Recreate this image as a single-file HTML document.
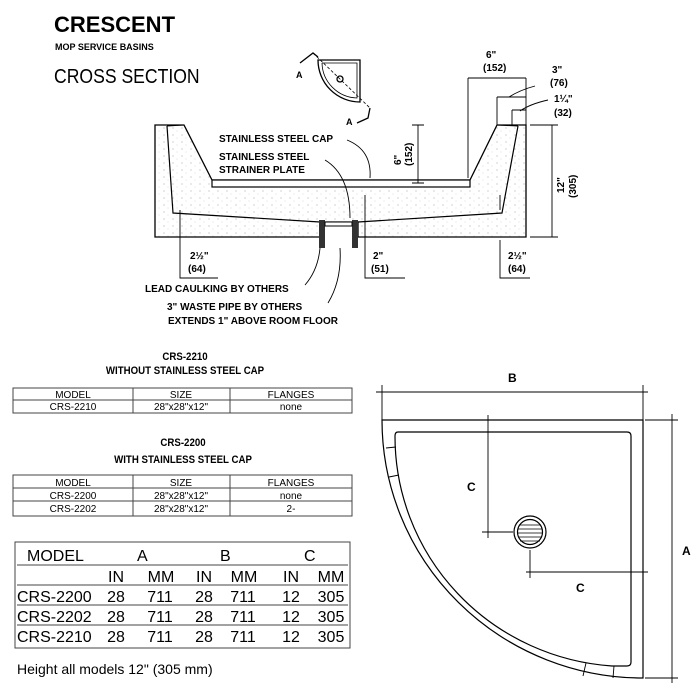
<!DOCTYPE html>
<html><head><style>
body{margin:0;background:#fff;}
svg{display:block;font-family:"Liberation Sans",sans-serif;}
</style></head><body>
<svg width="700" height="694" viewBox="0 0 700 694" xmlns="http://www.w3.org/2000/svg">
<defs>
<pattern id="dots" width="9" height="7" patternUnits="userSpaceOnUse">
<rect width="9" height="7" fill="#fff"/>
<circle cx="2" cy="2" r="0.5" fill="#888"/><circle cx="6" cy="5" r="0.4" fill="#aaa"/>
</pattern>
</defs>
<text x="54" y="32" font-size="22" font-weight="bold">CRESCENT</text>
<text x="55" y="50" font-size="9" font-weight="bold">MOP SERVICE BASINS</text>
<text font-size="20" transform="translate(54,83) scale(0.88,1)">CROSS SECTION</text>

<!-- mini plan -->
<g fill="none" stroke="#000" stroke-width="1.3">
<path d="M318 60 H360 V102 A42 42 0 0 1 318 60 Z"/>
<path d="M322 63 H357 V98 A36 36 0 0 1 322 63" stroke-width="0.8"/>
<circle cx="340" cy="79" r="3"/>
<path d="M313 53 L370 108" stroke-dasharray="3,2" stroke-width="0.8"/>
<path d="M300 63 L313 53 L318 57" /><path d="M370 108 L368 118 L357 123"/>
</g>
<text x="296" y="78" font-size="9" font-weight="bold">A</text>
<text x="346" y="125" font-size="9" font-weight="bold">A</text>

<!-- cross section -->
<path d="M155 125 H184 L212 180 H470 L497 125 H526 V237 H358 V222 H320 V237 H155 Z" fill="url(#dots)" stroke="#000" stroke-width="1.3"/>
<path d="M167 126 L173 213 L320 222 M358 222 L502 213 L518 126" fill="none" stroke="#000" stroke-width="1.2"/>
<path d="M167 126 L184 125 M518 126 L497 125" stroke="#000"/>
<rect x="212" y="180" width="258" height="7" fill="#fff" stroke="#000" stroke-width="1.2"/>
<rect x="319" y="220" width="6" height="28" fill="#333"/><rect x="352" y="220" width="6" height="28" fill="#333"/>
<rect x="325" y="222" width="27" height="4" fill="#fff" stroke="#000"/>
<g stroke="#000" stroke-width="0.9" fill="none">
<path d="M418 125 V183 M412 125 H424 M412 183 H424"/>
<path d="M552 125 V237 M530 125 H558 M530 237 H558"/>
<path d="M468 78 H526 M468 78 V178 M526 78 V125"/>
<path d="M497 97 H526 M497 97 V125"/>
<path d="M512 110 H526 M512 110 V125"/>
<path d="M509 97 Q520 90 535 86 M520 111 Q530 104 548 100"/>
<path d="M180 210 V278 H218 M180 240 V245"/>
<path d="M365 195 V278 H405"/>
<path d="M500 240 V278 H530 M500 195 V210"/>
<path d="M347 140 Q372 150 370 178 M325 160 Q350 175 350 218"/>
<path d="M320 248 Q318 270 305 285 M340 248 Q342 280 328 303"/>
</g>
<text x="219" y="142" font-size="10" font-weight="bold">STAINLESS STEEL CAP</text>
<text x="219" y="160" font-size="10" font-weight="bold">STAINLESS STEEL</text>
<text x="219" y="173" font-size="10" font-weight="bold">STRAINER PLATE</text>
<text font-size="10" font-weight="bold" transform="translate(401,165) rotate(-90)">6"</text>
<text font-size="10" font-weight="bold" transform="translate(412,166) rotate(-90)">(152)</text>
<text font-size="10" font-weight="bold" transform="translate(564,193) rotate(-90)">12"</text>
<text font-size="10" font-weight="bold" transform="translate(576,198) rotate(-90)">(305)</text>
<text x="486" y="58" font-size="10" font-weight="bold">6"</text>
<text x="483" y="71" font-size="10" font-weight="bold">(152)</text>
<text x="552" y="73" font-size="10" font-weight="bold">3"</text>
<text x="550" y="86" font-size="10" font-weight="bold">(76)</text>
<text x="554" y="102" font-size="10" font-weight="bold">1¼"</text>
<text x="554" y="116" font-size="10" font-weight="bold">(32)</text>
<text x="190" y="259" font-size="10" font-weight="bold">2½"</text>
<text x="188" y="272" font-size="10" font-weight="bold">(64)</text>
<text x="373" y="259" font-size="10" font-weight="bold">2"</text>
<text x="371" y="272" font-size="10" font-weight="bold">(51)</text>
<text x="508" y="259" font-size="10" font-weight="bold">2½"</text>
<text x="508" y="272" font-size="10" font-weight="bold">(64)</text>
<text x="145" y="292" font-size="10" font-weight="bold">LEAD CAULKING BY OTHERS</text>
<text x="167" y="310" font-size="10" font-weight="bold">3" WASTE PIPE BY OTHERS</text>
<text x="168" y="324" font-size="10" font-weight="bold">EXTENDS 1" ABOVE ROOM FLOOR</text>

<!-- tables -->
<g font-size="11" font-weight="bold" text-anchor="middle">
<text transform="translate(185,360) scale(0.88,1)">CRS-2210</text>
<text transform="translate(185,374) scale(0.88,1)">WITHOUT STAINLESS STEEL CAP</text>
<text transform="translate(183,446) scale(0.88,1)">CRS-2200</text>
<text transform="translate(183,463) scale(0.88,1)">WITH STAINLESS STEEL CAP</text>
</g>
<g fill="none" stroke="#444" stroke-width="1">
<rect x="13" y="388" width="339" height="25"/><path d="M13 400 H352 M133 388 V413 M230 388 V413"/>
<rect x="13" y="475" width="339" height="41"/><path d="M13 488 H352 M13 501 H352 M133 475 V516 M230 475 V516"/>
<rect x="15" y="542" width="335" height="106"/><path d="M17 565 H348 M17 585 H348 M17 605 H348 M17 625 H348"/>
</g>
<g font-size="10" text-anchor="middle">
<text x="73" y="398">MODEL</text><text x="181" y="398">SIZE</text><text x="291" y="398">FLANGES</text>
<text x="73" y="410">CRS-2210</text><text x="181" y="410">28"x28"x12"</text><text x="291" y="410">none</text>
<text x="73" y="486">MODEL</text><text x="181" y="486">SIZE</text><text x="291" y="486">FLANGES</text>
<text x="73" y="499">CRS-2200</text><text x="181" y="499">28"x28"x12"</text><text x="291" y="499">none</text>
<text x="73" y="512">CRS-2202</text><text x="181" y="512">28"x28"x12"</text><text x="291" y="512">2-</text>
</g>
<g font-size="16">
<text x="27" y="561">MODEL</text><text x="137" y="561">A</text><text x="220" y="561">B</text><text x="304" y="561">C</text>
<g text-anchor="middle"><text x="116" y="582">IN</text><text x="161" y="582">MM</text><text x="204" y="582">IN</text><text x="244" y="582">MM</text><text x="291" y="582">IN</text><text x="331" y="582">MM</text></g>
<text x="17" y="602">CRS-2200</text><text x="17" y="622">CRS-2202</text><text x="17" y="642">CRS-2210</text>
<g text-anchor="middle">
<text x="116" y="602">28</text><text x="160" y="602">711</text><text x="204" y="602">28</text><text x="243" y="602">711</text><text x="291" y="602">12</text><text x="331" y="602">305</text>
<text x="116" y="622">28</text><text x="160" y="622">711</text><text x="204" y="622">28</text><text x="243" y="622">711</text><text x="291" y="622">12</text><text x="331" y="622">305</text>
<text x="116" y="642">28</text><text x="160" y="642">711</text><text x="204" y="642">28</text><text x="243" y="642">711</text><text x="291" y="642">12</text><text x="331" y="642">305</text>
</g></g>
<text x="17" y="674" font-size="14">Height all models 12" (305 mm)</text>

<!-- plan view -->
<g fill="none" stroke="#000" stroke-width="1.2">
<path d="M382 420 H643 V678 A261 258 0 0 1 382 420 Z"/>
<path d="M398 432 H627 Q631 432 631 436 V662 Q631 666 627 666 H612 A233 230 0 0 1 395 436 Q395 432 398 432 Z"/>
<path d="M386 448 L396 447 M389 477 L399 475 M586 663 L583 676 M614 666 L613 678" stroke-width="0.9"/>
<circle cx="530" cy="532" r="16"/><circle cx="530" cy="532" r="12.5"/>
<path d="M519 525 H541 M518 529 H542 M518 533 H542 M518 537 H542 M520 541 H540" stroke-width="0.8"/>
<g stroke-width="0.9">
<path d="M376 392 H648 M382 385 V420 M643 385 V420"/>
<path d="M672 414 V683 M645 420 H678 M645 678 H678"/>
<path d="M488 415 V538 M482 532 H513"/>
<path d="M526 572 H648 M530 550 V578"/>
</g></g>
<g font-size="12" font-weight="bold">
<text x="508" y="382">B</text><text x="682" y="555">A</text><text x="467" y="491">C</text><text x="576" y="592">C</text>
</g>
</svg>
</body></html>
